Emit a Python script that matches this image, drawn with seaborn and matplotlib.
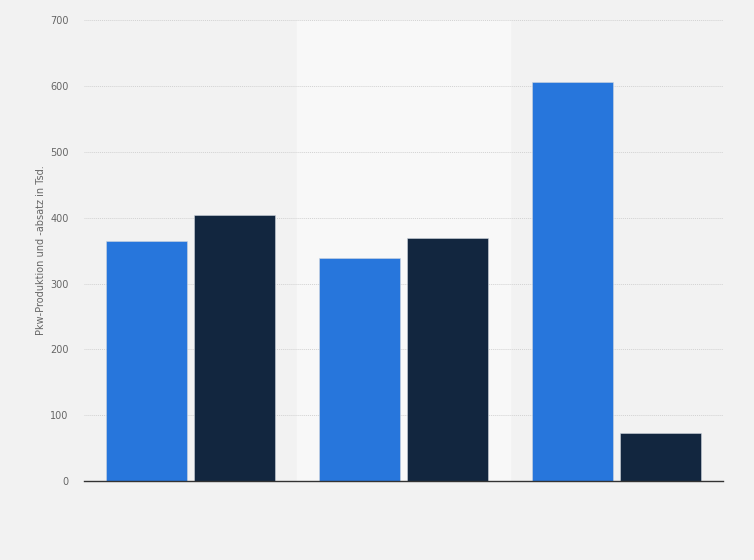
import matplotlib
matplotlib.use("Agg")
import matplotlib.pyplot as plt
import pandas as pd
import seaborn as sns

# three groups, no labels shown in the reference
groups = ["1", "2", "3"]
series = ["Produktion", "Absatz"]
produktion = [365, 339, 606]
absatz = [404, 369, 73]
colors = ["#2776dc", "#12263f"]

df = pd.DataFrame({
    "gruppe": groups * 2,
    "serie": [series[0]] * 3 + [series[1]] * 3,
    "wert": produktion + absatz,
})

sns.set_style("white")
plt.rcParams["font.family"] = ["DejaVu Sans"]

fig = plt.figure(figsize=(7.54, 5.6), dpi=100, facecolor="#f2f2f2")
ax = fig.add_axes([0.1114, 0.141, 0.8475, 0.823])
ax.set_facecolor("#f2f2f2")

ax.axvspan(0.5, 1.5, color="#f8f8f8", zorder=0)

sns.barplot(data=df, x="gruppe", y="wert", hue="serie", palette=colors,
            saturation=1, width=0.83, gap=0.09, ax=ax, legend=False, zorder=3,
            edgecolor="#d0d6de", linewidth=0.4)

ax.set_xlim(-0.5, 2.5)
ax.set_ylim(0, 700)
ax.set_yticks(range(0, 701, 100))
ax.yaxis.grid(True, color="#d2d2d2", linestyle=(0, (1, 1)), linewidth=0.7, zorder=1)
ax.set_axisbelow(True)
ax.tick_params(axis="y", length=0, labelsize=7, labelcolor="#666666", pad=11)
ax.tick_params(axis="x", length=0, labelbottom=False)
ax.set_xlabel("")
ax.set_ylabel("Pkw-Produktion und -absatz in Tsd.", fontsize=7, color="#666666", labelpad=3)

for s in ["top", "right", "left"]:
    ax.spines[s].set_visible(False)
ax.spines["bottom"].set_color("#333333")
ax.spines["bottom"].set_linewidth(1)
ax.spines["bottom"].set_zorder(5)

fig.savefig("out.png", dpi=100, facecolor=fig.get_facecolor())
